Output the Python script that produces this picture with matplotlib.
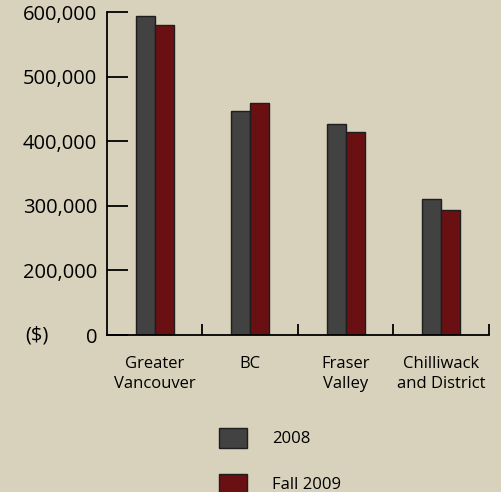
import matplotlib
matplotlib.use('Agg')
import matplotlib.pyplot as plt
import numpy as np

regions = ['Greater\nVancouver', 'BC', 'Fraser\nValley', 'Chilliwack\nand District']
price_2008 = [594000, 447000, 426000, 311000]
price_2009 = [580000, 459000, 414000, 294000]
series_labels = ['2008', 'Fall 2009']

# axis starts at 100k but the bottom is marked 0
ytick_vals = [100000, 200000, 300000, 400000, 500000, 600000]
ytick_labels = ['0', '200,000', '300,000', '400,000', '500,000', '600,000']

bg = '#d8d1bb'
plt.rcParams['font.family'] = ['Open Sans', 'DejaVu Sans']

fig = plt.figure(figsize=(5.02, 4.92), dpi=100, facecolor=bg)
ax = fig.add_axes([0.2131, 0.3191, 0.7610, 0.6565])
ax.set_facecolor(bg)

x = np.arange(len(regions))
w = 0.2
b1 = ax.bar(x - w/2, price_2008, w, color='#424242', edgecolor='#1e1e1e', linewidth=1,
            label=series_labels[0], bottom=0)
b2 = ax.bar(x + w/2, price_2009, w, color='#6b1012', edgecolor='#1e1e1e', linewidth=1,
            label=series_labels[1], bottom=0)

ax.set_xlim(-0.5, 3.5)
ax.set_ylim(100000, 600000)

for s in ['top', 'right']:
    ax.spines[s].set_visible(False)
for s in ['left', 'bottom']:
    ax.spines[s].set_linewidth(1.3)

ax.set_yticks(ytick_vals)
ax.set_yticklabels(ytick_labels, fontsize=14.5)
ax.tick_params(axis='y', direction='in', length=15, width=1.3, pad=7)

ax.set_xticks(x)
ax.set_xticklabels(regions, fontsize=12, linespacing=1.33)
ax.tick_params(axis='x', which='major', length=0, pad=15)
ax.set_xticks([0.5, 1.5, 2.5, 3.5], minor=True)
ax.tick_params(axis='x', which='minor', direction='in', length=8, width=1.3)

ax.text(-0.154, 0.0, '($)', transform=ax.transAxes, fontsize=14.5,
        ha='right', va='center')

ax.legend(handles=[b1, b2], loc='upper left', bbox_to_anchor=(219/502, 1 - 428/492),
          bbox_transform=fig.transFigure, frameon=False, fontsize=12,
          handlelength=1.7, handleheight=1.45, labelspacing=1.56,
          handletextpad=1.5, borderpad=0, borderaxespad=0)

fig.savefig('out.png', dpi=100, facecolor=bg)
